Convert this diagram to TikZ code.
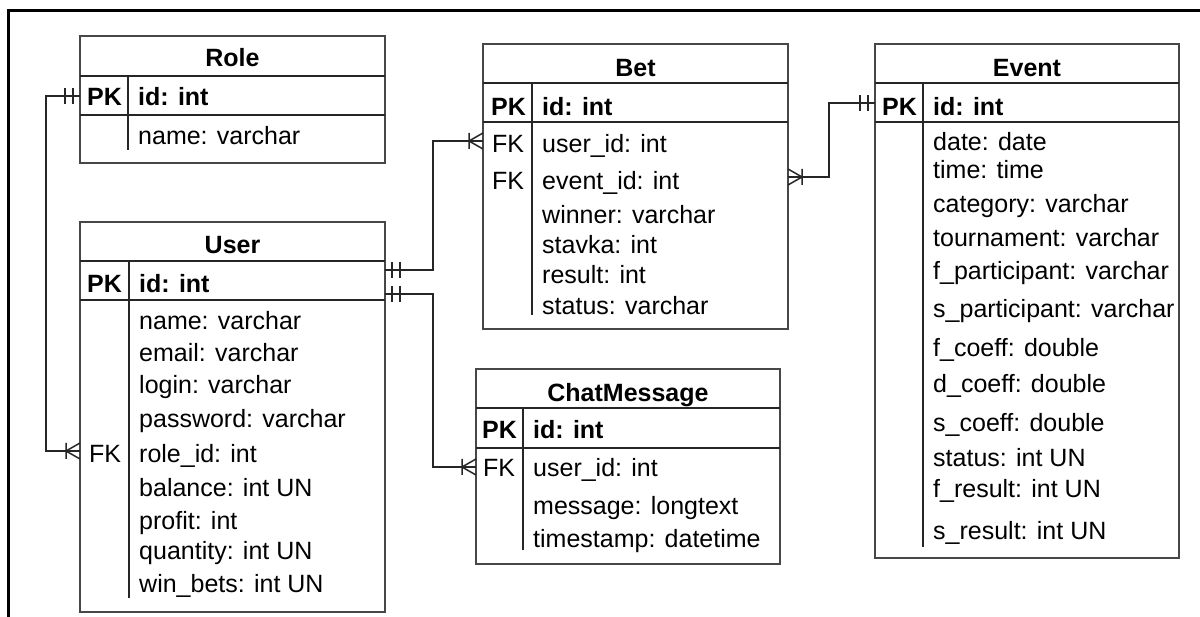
\documentclass[tikz,border=0pt]{standalone}
\usepackage{fontspec}
\setmainfont{Liberation Sans}
\begin{document}
\begin{tikzpicture}[x=1pt,y=-1pt,
  tbl/.style={draw=black!72, line width=1.7pt, inner sep=0pt, outer sep=0pt},
  sepl/.style={draw=black!85, line width=1.7pt},
  divl/.style={draw=black!85, line width=1.5pt},
  conn/.style={draw=black!85, line width=1.5pt},
  frame/.style={draw=black, line width=3pt},
  ttl/.style={inner sep=0pt, text height=21pt, text depth=2pt, font=\fontsize{25}{30}\selectfont\bfseries},
  fld/.style={anchor=west, inner sep=0pt, text height=21pt, text depth=2pt, font=\fontsize{25}{30}\selectfont},
  erone/.pic={\draw[conn] (-7,-8) -- (-7,8) (-15,-8) -- (-15,8);},
  ermany/.pic={\draw[conn] (0,-8) -- (-14,0) -- (0,8) (-14,-8) -- (-14,8);}
]
\useasboundingbox (0,0) rectangle (1200,617);
% outer frame (cropped)
\draw[frame] (1200,11) -- (8.5,11) -- (8.5,617);

% ---------- Role ----------
\node[tbl, minimum width=305pt, minimum height=127pt] (role) at (232.5,99.5) {};
\draw[sepl] (role.west |- 0,76) -- (role.east |- 0,76);
\draw[sepl] (role.west |- 0,115) -- (role.east |- 0,115);
\draw[divl] (128,76) -- (128,150);
\node[ttl] (role-t) at (232.5,57) {Role};
\node[fld] (role-pk) at (87,96) {\bfseries PK};
\node[fld] (role-id) at (138,96) {\bfseries id: int};
\node[fld] (role-name) at (138,135) {name: varchar};

% ---------- User ----------
\node[tbl, minimum width=305pt, minimum height=390pt] (user) at (232.5,417) {};
\draw[sepl] (user.west |- 0,261) -- (user.east |- 0,261);
\draw[sepl] (user.west |- 0,300) -- (user.east |- 0,300);
\draw[divl] (129,261) -- (129,598);
\node[ttl] (user-t) at (232.5,244) {User};
\node[fld] (user-pk) at (87,283) {\bfseries PK};
\node[fld] (user-id) at (139,283) {\bfseries id: int};
\node[fld] (user-name) at (139,320) {name: varchar};
\node[fld] (user-email) at (139,352) {email: varchar};
\node[fld] (user-login) at (139,384) {login: varchar};
\node[fld] (user-pass) at (139,418) {password: varchar};
\node[fld] (user-fk) at (89,453) {FK};
\node[fld] (user-role) at (139,453) {role\_id: int};
\node[fld] (user-bal) at (139,487) {balance: int UN};
\node[fld] (user-prof) at (139,520) {profit: int};
\node[fld] (user-qty) at (139,550) {quantity: int UN};
\node[fld] (user-win) at (139,583) {win\_bets: int UN};

% ---------- Bet ----------
\node[tbl, minimum width=305pt, minimum height=285pt] (bet) at (635.5,186.5) {};
\draw[sepl] (bet.west |- 0,83) -- (bet.east |- 0,83);
\draw[sepl] (bet.west |- 0,122) -- (bet.east |- 0,122);
\draw[divl] (532,83) -- (532,315);
\node[ttl] (bet-t) at (635.5,67) {Bet};
\node[fld] (bet-pk) at (491,106) {\bfseries PK};
\node[fld] (bet-id) at (542,106) {\bfseries id: int};
\node[fld] (bet-fk1) at (492,143) {FK};
\node[fld] (bet-user) at (542,143) {user\_id: int};
\node[fld] (bet-fk2) at (492,180) {FK};
\node[fld] (bet-event) at (542,180) {event\_id: int};
\node[fld] (bet-win) at (542,214) {winner: varchar};
\node[fld] (bet-st) at (542,244) {stavka: int};
\node[fld] (bet-res) at (542,274) {result: int};
\node[fld] (bet-stat) at (542,305) {status: varchar};

% ---------- Event ----------
\node[tbl, minimum width=304pt, minimum height=514pt] (event) at (1027,301) {};
\draw[sepl] (event.west |- 0,83) -- (event.east |- 0,83);
\draw[sepl] (event.west |- 0,122) -- (event.east |- 0,122);
\draw[divl] (923,83) -- (923,547);
\node[ttl] (event-t) at (1027,67) {Event};
\node[fld] (event-pk) at (882,106) {\bfseries PK};
\node[fld] (event-id) at (933,106) {\bfseries id: int};
\node[fld] (event-date) at (933,141) {date: date};
\node[fld] (event-time) at (933,169) {time: time};
\node[fld] (event-cat) at (933,203) {category: varchar};
\node[fld] (event-tour) at (933,237) {tournament: varchar};
\node[fld] (event-fp) at (933,270) {f\_participant: varchar};
\node[fld] (event-sp) at (933,308) {s\_participant: varchar};
\node[fld] (event-fc) at (933,347) {f\_coeff: double};
\node[fld] (event-dc) at (933,383) {d\_coeff: double};
\node[fld] (event-sc) at (933,422) {s\_coeff: double};
\node[fld] (event-stat) at (933,457) {status: int UN};
\node[fld] (event-fr) at (933,488) {f\_result: int UN};
\node[fld] (event-sr) at (933,530) {s\_result: int UN};

% ---------- ChatMessage ----------
\node[tbl, minimum width=304pt, minimum height=195pt] (chat) at (628,466.5) {};
\draw[sepl] (chat.west |- 0,408) -- (chat.east |- 0,408);
\draw[sepl] (chat.west |- 0,448) -- (chat.east |- 0,448);
\draw[divl] (523,408) -- (523,550);
\node[ttl] (chat-t) at (628,392) {ChatMessage};
\node[fld] (chat-pk) at (482,429) {\bfseries PK};
\node[fld] (chat-id) at (533,429) {\bfseries id: int};
\node[fld] (chat-fk) at (483,467) {FK};
\node[fld] (chat-user) at (533,467) {user\_id: int};
\node[fld] (chat-msg) at (533,505) {message: longtext};
\node[fld] (chat-ts) at (533,538) {timestamp: datetime};

% ---------- connectors ----------
\coordinate (c-role) at (role.west |- 0,96);
\coordinate (c-userfk) at (user.west |- 0,451);
\coordinate (c-user1) at (user.east |- 0,270);
\coordinate (c-user2) at (user.east |- 0,294);
\coordinate (c-betfk) at (bet.west |- 0,141);
\coordinate (c-chatfk) at (chat.west |- 0,467);
\coordinate (c-betev) at (bet.east |- 0,177);
\coordinate (c-event) at (event.west |- 0,103);

\draw[conn] (c-role) -- (46,96) |- (c-userfk);
\pic at (c-role) {erone};
\pic at (c-userfk) {ermany};

\draw[conn] (c-user1) -- (433,270) |- (c-betfk);
\pic[xscale=-1] at (c-user1) {erone};
\pic at (c-betfk) {ermany};

\draw[conn] (c-user2) -- (433,294) |- (c-chatfk);
\pic[xscale=-1] at (c-user2) {erone};
\pic at (c-chatfk) {ermany};

\draw[conn] (c-betev) -- (829,177) |- (c-event);
\pic[xscale=-1] at (c-betev) {ermany};
\pic at (c-event) {erone};
\end{tikzpicture}
\end{document}
